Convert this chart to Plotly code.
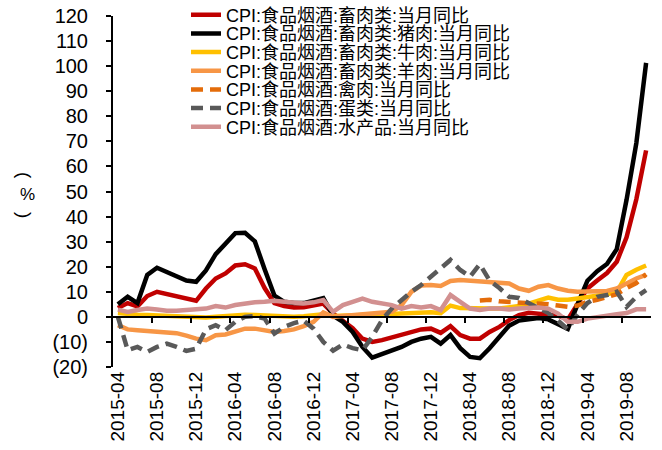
import plotly.graph_objects as go

# ---------------- data ----------------
months = []
y, m = 2015, 4
while (y, m) <= (2019, 10):
    months.append(f"{y}-{m:02d}")
    m += 1
    if m > 12:
        m = 1
        y += 1

livestock = [3.5, 5.5, 4.2, 8.3, 10.0, 9.0, 8.0, 7.0, 6.4, 11.3, 15.3, 17.3, 20.5, 21.0, 19.3,
             11.5, 5.5, 4.3, 3.7, 3.8, 4.7, 5.3, 1.3, -1.5, -4.5, -8.7, -10.0, -9.3, -8.3, -7.3,
             -6.0, -5.0, -4.7, -6.4, -3.7, -7.3, -8.7, -8.7, -6.0, -4.0, -1.3, 0.7, 1.6, 1.3, 0.7,
             0.5, -1.0, 5.0, 11.3, 14.5, 17.5, 22.0, 31.7, 46.9, 66.4]
pork = [5.0, 8.0, 5.5, 16.7, 19.6, 17.8, 16.0, 14.5, 14.0, 18.5, 25.0, 29.0, 33.4, 33.5, 30.1,
        19.0, 8.5, 6.0, 5.5, 5.5, 6.5, 7.5, 0.5, -2.0, -6.0, -12.0, -16.3, -15.0, -13.3, -12.0,
        -10.0, -8.7, -8.0, -10.7, -7.3, -12.5, -16.0, -16.5, -12.5, -8.0, -3.5, -1.5, -1.0, -0.5, -1.0,
        -3.0, -4.8, 5.1, 14.4, 18.2, 21.1, 27.0, 46.7, 69.3, 101.3]
beef = [1.5, 1.0, 0.8, 0.7, 0.5, 0.5, 0.3, 0.0, -0.5, -0.3, 0.0, 0.3, 0.8, 0.8, 0.7,
        0.5, 0.2, 0.0, 0.0, 0.2, 0.5, 1.0, 0.3, 0.3, 0.5, 0.7, 0.8, 1.0, 1.0, 1.3,
        1.5, 1.5, 1.8, 1.5, 4.5, 3.5, 3.3, 3.3, 3.3, 3.3, 3.7, 4.3, 5.3, 6.5, 7.7,
        6.8, 6.8, 7.3, 7.8, 8.3, 9.0, 10.0, 16.7, 18.8, 20.5]
lamb = [-3.3, -5.0, -5.3, -5.5, -5.8, -6.0, -6.5, -7.5, -8.7, -9.3, -7.3, -7.0, -6.0, -4.7, -4.7,
        -5.3, -6.0, -5.6, -5.0, -3.7, -2.0, 1.8, 0.0, 0.3, 0.7, 1.0, 1.3, 1.5, 2.0, 4.7,
        10.0, 12.5, 12.7, 12.3, 14.3, 14.7, 14.4, 13.9, 13.5, 13.3, 13.3, 11.3, 10.4, 12.0, 12.7,
        11.3, 10.4, 10.0, 10.0, 10.0, 10.3, 11.3, 13.3, 15.3, 16.7]
poultry = [None] * 37 + [6.5, 6.8, 6.2, 6.0, 5.8, 5.5, 5.3, 5.0, 4.5, 4.0, 4.5, 6.0, 6.8, 8.0,
                         9.0, 11.5, 13.5, 17.0]
eggs = [0.0, -13.3, -12.0, -14.0, -12.0, -10.7, -12.0, -13.6, -12.7, -5.0, -3.3, -5.3, -2.0, 0.0, 0.3,
        -0.7, -6.7, -4.0, -2.5, -1.5, -4.7, -10.0, -13.5, -11.0, -12.5, -13.3, -8.0, -1.3, 3.3, 6.7,
        10.0, 12.7, 16.0, 19.3, 22.7, 18.7, 16.0, 21.0, 14.5, 11.5, 8.0, 7.5, 5.5, 3.5, 1.5,
        -1.5, -5.0, 1.0, 5.5, 8.0, 8.7, 10.0, 4.0, 8.0, 10.7]
aquatic = [2.9, 2.0, 2.7, 3.3, 2.9, 2.4, 2.4, 2.7, 2.9, 3.3, 4.3, 3.7, 4.7, 5.3, 5.8,
           6.0, 6.4, 6.0, 5.5, 5.3, 5.8, 6.7, 2.0, 4.7, 6.0, 7.3, 6.0, 5.3, 4.7, 3.3,
           4.3, 3.7, 4.3, 2.7, 8.7, 6.0, 3.3, 2.7, 3.3, 3.3, 2.9, 3.3, 3.7, 3.7, 3.3,
           1.3, -2.0, -2.0, -0.7, 0.0, 0.5, 1.0, 1.5, 3.0, 3.0]

names = ["CPI:食品烟酒:畜肉类:当月同比",
         "CPI:食品烟酒:畜肉类:猪肉:当月同比",
         "CPI:食品烟酒:畜肉类:牛肉:当月同比",
         "CPI:食品烟酒:畜肉类:羊肉:当月同比",
         "CPI:食品烟酒:禽肉:当月同比",
         "CPI:食品烟酒:蛋类:当月同比",
         "CPI:食品烟酒:水产品:当月同比"]
values = [livestock, pork, beef, lamb, poultry, eggs, aquatic]

tick_labels = months[::4]
y_ticks = list(range(-20, 121, 10))
y_ticktext = [f"({abs(v)})" if v < 0 else str(v) for v in y_ticks]
y_title_parts = ["(", "%", ")"]

# ---------------- style ----------------
colors = ["#C00000", "#000000", "#FFC000", "#F79646", "#E46C0A", "#595959", "#D29090"]
dashes = ["solid", "solid", "solid", "solid", "12px,7px", "12px,7px", "solid"]
FONT = "Liberation Sans, Arial, Noto Sans CJK SC, sans-serif"
W, H = 662, 450
ML, MR, MT, MB = 113, 11, 16, 83
plot_w = W - ML - MR
plot_h = H - MT - MB
legend_rows = [15, 33.7, 52.3, 71, 89.7, 108.3, 127]
title_pos = [(24, 175, 90, 19), (27.5, 194.5, 0, 17), (24, 215, 90, 19)]


def px_x(px):
    return (px - ML) / plot_w


def px_y(py):
    return 1 - (py - MT) / plot_h


fig = go.Figure()
legend_ids = ["legend"] + [f"legend{k}" for k in range(2, 8)]
for k, (nm, vals) in enumerate(zip(names, values)):
    fig.add_trace(go.Scatter(
        x=months, y=vals, name=nm, mode="lines",
        line=dict(color=colors[k], width=4.5, dash=dashes[k]),
        connectgaps=False, legend=legend_ids[k],
    ))

# helper (invisible) trace so the zero-line axis exists
fig.add_trace(go.Scatter(x=list(range(len(months))), y=pork, xaxis="x2", mode="lines",
                         line=dict(width=0), opacity=0, showlegend=False, hoverinfo="skip"))

layout_legends = {}
for k, lid in enumerate(legend_ids):
    layout_legends[lid] = dict(
        x=px_x(186), xanchor="left",
        y=px_y(legend_rows[k]), yanchor="middle",
        bgcolor="rgba(0,0,0,0)", borderwidth=0,
        font=dict(family=FONT, size=18, color="#000000"),
    )

boundary_ticks = [months.index(t) - 0.5 for t in tick_labels[1:]]

annotations = []
for txt, (tx, ty, ang, fs) in zip(y_title_parts, title_pos):
    annotations.append(dict(
        text=txt, xref="paper", yref="paper", x=px_x(tx), y=px_y(ty),
        xanchor="center", yanchor="middle", showarrow=False, textangle=ang,
        font=dict(family=FONT, size=fs, color="#000000"),
    ))

fig.update_layout(
    width=W, height=H,
    margin=dict(l=ML, r=MR, t=MT, b=MB, autoexpand=False),
    plot_bgcolor="white", paper_bgcolor="white",
    font=dict(family=FONT, color="#000000"),
    showlegend=True,
    xaxis=dict(
        type="category", range=[-0.5, len(months) - 0.5],
        tickmode="array", tickvals=tick_labels, ticktext=tick_labels,
        tickangle=-90, ticks="", showline=False, showgrid=False, zeroline=False,
        tickfont=dict(family=FONT, size=19, color="#000000"),
    ),
    xaxis2=dict(
        overlaying="x", anchor="free", position=20 / 140,
        type="linear", range=[-0.5, len(months) - 0.5],
        tickmode="array", tickvals=boundary_ticks,
        ticks="outside", ticklen=5, tickwidth=2, tickcolor="#000000",
        showline=True, linecolor="#000000", linewidth=2,
        showticklabels=False, showgrid=False, zeroline=False,
    ),
    yaxis=dict(
        range=[-20, 120], tickmode="array", tickvals=y_ticks, ticktext=y_ticktext,
        showline=True, linecolor="#000000", linewidth=2,
        ticks="outside", ticklen=5, tickwidth=2, tickcolor="#000000",
        showgrid=False, zeroline=False,
        tickfont=dict(family=FONT, size=20, color="#000000"),
        ticklabelstandoff=14,
    ),
    annotations=annotations,
    **layout_legends,
)

fig.write_html("out.html",
               config={"displayModeBar": False},
               post_script="document.body.style.margin='0';document.body.style.padding='0';")
